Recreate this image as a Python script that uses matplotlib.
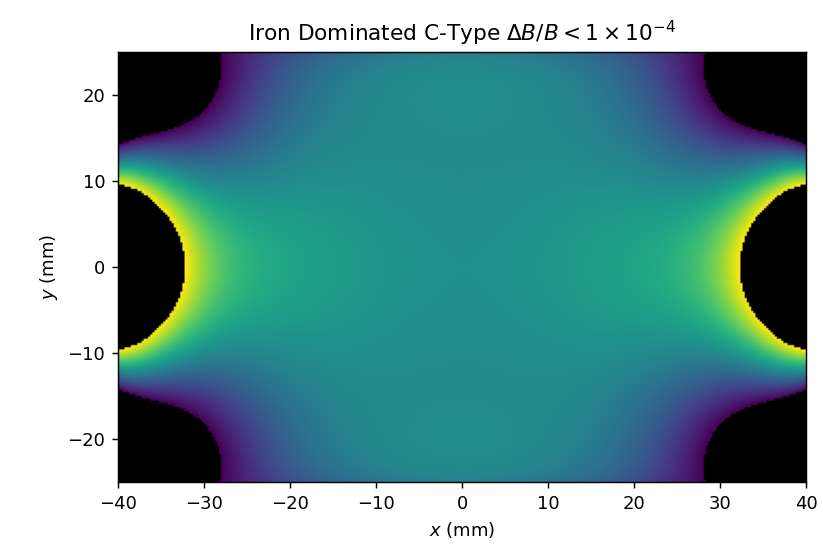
import numpy as np
import matplotlib.pyplot as plt

# field quality dB/B in units of 1e-4, even polynomial in (x/r0)^2 and (y/r0)^2
# row i holds the coefficients of (x/r0)^(2i) * (y/r0)^(2j), j = 0, 1, ...
r0 = 40.0
coef_x0 = [0.0, -0.841, 4.774, -4.333, -9.503, -6.785]
coef_x2 = [0.823, -7.506, 5.657, 0.881, -5.31]
coef_x4 = [-0.137, -11.254, 26.839, 16.805]
coef_x6 = [-5.966, -20.379, 30.469]
coef_x8 = [18.766, -1.36]
coef_x10 = [-10.312]
tolerance = 1e-4

x = np.linspace(-40, 40, 321)
y = np.linspace(-25, 25, 201)
X, Y = np.meshgrid(x, y)
u2 = (X / r0) ** 2
v2 = (Y / r0) ** 2

dBB = np.zeros_like(X)
for i, row in enumerate([coef_x0, coef_x2, coef_x4, coef_x6, coef_x8, coef_x10]):
    for j, c in enumerate(row):
        dBB += c * u2 ** i * v2 ** j
dBB *= 1e-4

# hide everything outside the good field region
dBB = np.ma.masked_where(np.abs(dBB) > tolerance, dBB)

cmap = plt.get_cmap('viridis').copy()
cmap.set_bad('black')

fig = plt.figure(figsize=(823 / 130, 560 / 130), dpi=130)
ax = fig.add_axes([118 / 823, 78 / 560, 688 / 823, 430 / 560])
ax.imshow(dBB, extent=[-40, 40, -25, 25], origin='lower', cmap=cmap,
          vmin=-tolerance, vmax=tolerance, aspect='auto')
ax.set_title(r'Iron Dominated C-Type $\Delta B/B < 1 \times 10^{-4}$')
ax.set_xlabel(r'$x$ (mm)')
ax.set_ylabel(r'$y$ (mm)')
fig.savefig('out.png')
